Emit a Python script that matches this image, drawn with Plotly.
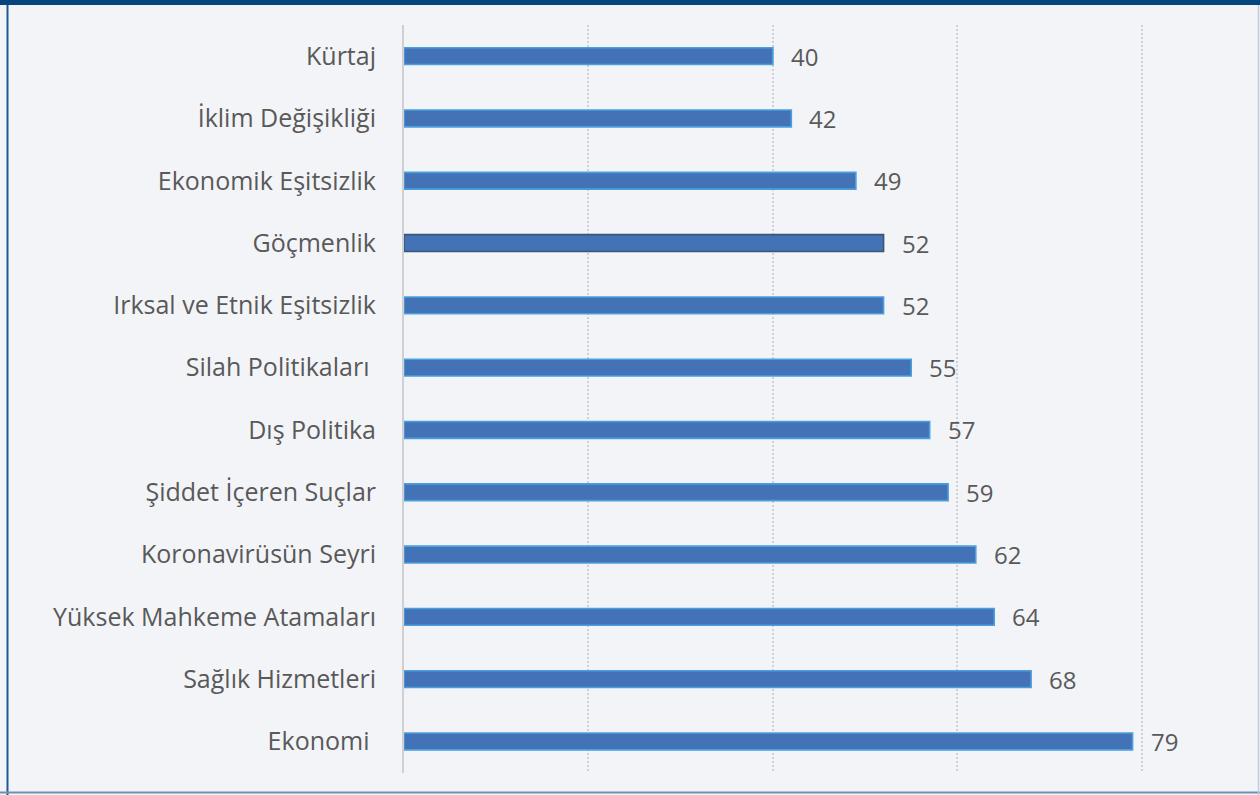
import plotly.graph_objects as go

categories = ["Kürtaj", "İklim Değişikliği", "Ekonomik Eşitsizlik", "Göçmenlik",
              "Irksal ve Etnik Eşitsizlik", "Silah Politikaları ", "Dış Politika",
              "Şiddet İçeren Suçlar", "Koronavirüsün Seyri", "Yüksek Mahkeme Atamaları",
              "Sağlık Hizmetleri", "Ekonomi "]
values = [40, 42, 49, 52, 52, 55, 57, 59, 62, 64, 68, 79]
outline_colors = ["#4a9fdd"] * 3 + ["#3b5573"] + ["#4a9fdd"] * 8

W, H = 1260, 795
x0, x1 = 404, 1234
y_top, y_bot = 25, 772.6

fig = go.Figure()
fig.add_trace(go.Bar(
    x=values, y=categories, orientation="h", width=0.27,
    marker=dict(color="#4472b6", line=dict(color=outline_colors, width=1.6)),
    hoverinfo="x+y",
))

for c, v in zip(categories, values):
    fig.add_annotation(x=v, y=c, text=str(v), showarrow=False, xanchor="left",
                       xshift=16, font=dict(family="Open Sans", size=24, color="#595959"))

fig.update_layout(
    width=W, height=H,
    margin=dict(l=0, r=0, t=0, b=0),
    paper_bgcolor="#f3f4f8", plot_bgcolor="#f3f4f8",
    showlegend=False,
    font=dict(family="Open Sans", size=25, color="#595959"),
    xaxis=dict(domain=[x0 / W, x1 / W], range=[0, 90], dtick=20, tick0=0,
               showgrid=True, gridcolor="#cfd1d6", griddash="2px,2px", gridwidth=2,
               zeroline=False, showticklabels=False, ticks=""),
    yaxis=dict(domain=[1 - y_bot / H, 1 - y_top / H], autorange="reversed",
               categoryorder="array", categoryarray=categories,
               showline=True, linecolor="#d0d0d2", linewidth=2,
               ticks="", ticklabelstandoff=21, showgrid=False),
    shapes=[
        dict(type="rect", xref="paper", yref="paper", x0=0, x1=1, y0=1 - 5 / H, y1=1,
             fillcolor="#06467f", line=dict(width=0), layer="above"),
        dict(type="line", xref="paper", yref="paper", x0=7.5 / W, x1=7.5 / W, y0=0, y1=1 - 5 / H,
             line=dict(color="#1d5897", width=2)),
        dict(type="line", xref="paper", yref="paper", x0=0, x1=1, y0=2.5 / H, y1=2.5 / H,
             line=dict(color="#6f8fb3", width=2)),
        dict(type="line", xref="paper", yref="paper", x0=1258.5 / W, x1=1258.5 / W, y0=0, y1=1 - 5 / H,
             line=dict(color="#c3cad6", width=1.5)),
    ],
)

fig.write_html("out.html", config={"displayModeBar": False},
               post_script="document.body.style.margin='0';document.body.style.padding='0';"
                           "document.body.style.overflow='hidden';")
